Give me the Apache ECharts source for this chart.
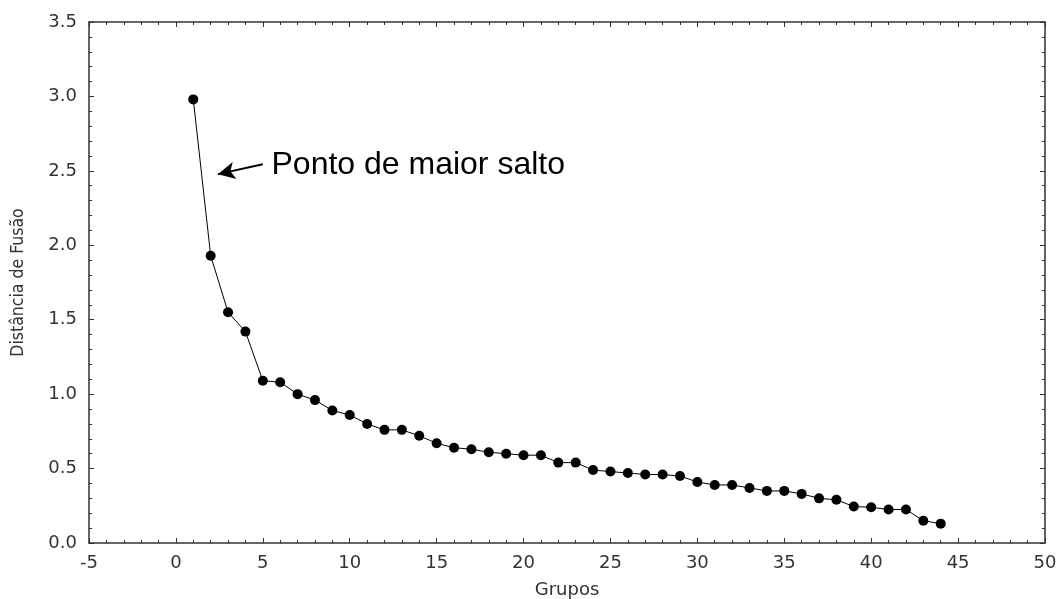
<!DOCTYPE html>
<html>
<head>
<meta charset="utf-8">
<script src="https://cdn.jsdelivr.net/npm/echarts@6/dist/echarts.min.js"></script>
<style>html,body{margin:0;padding:0;background:#fff}#c{width:1058px;height:599px}</style>
</head>
<body>
<div id="c"></div>
<script>
var grupos = [1,2,3,4,5,6,7,8,9,10,11,12,13,14,15,16,17,18,19,20,21,22,23,24,25,26,27,28,29,30,31,32,33,34,35,36,37,38,39,40,41,42,43,44];
var distancia = [2.98,1.93,1.55,1.42,1.09,1.08,1.00,0.96,0.89,0.86,0.80,0.76,0.76,0.72,0.67,0.64,0.63,0.61,0.60,0.59,0.59,0.54,0.54,0.49,0.48,0.47,0.46,0.46,0.45,0.41,0.39,0.39,0.37,0.35,0.35,0.33,0.30,0.29,0.245,0.24,0.225,0.225,0.15,0.13];
var annotationText = 'Ponto de maior salto';
var xTitle = 'Grupos';
var yTitle = 'Dist\u00e2ncia de Fus\u00e3o';

var pts = grupos.map(function(g,i){return [g, distancia[i]];});
var axisColor = '#333';
var font = 'Liberation Sans, Arial, sans-serif';
var tickFont = 'DejaVu Sans, sans-serif';

var chart = echarts.init(document.getElementById('c'));
chart.setOption({
  animation: false,
  backgroundColor: '#fff',
  grid: {left: 89, top: 22, right: 13, bottom: 56, show: false, containLabel: false, outerBoundsMode: 'none'},
  xAxis: [{
    type: 'value', min: -5, max: 50, interval: 5, position: 'bottom',
    name: xTitle, nameLocation: 'middle', nameGap: 38,
    nameTextStyle: {fontSize: 18, color: '#333', fontFamily: tickFont},
    axisLine: {show: true, onZero: false, lineStyle: {color: axisColor, width: 1.5}},
    axisTick: {show: true, inside: true, length: 5, lineStyle: {color: axisColor}},
    minorTick: {show: true, splitNumber: 5, length: 3, lineStyle: {color: axisColor}},
    axisLabel: {fontSize: 18, color: '#333', margin: 11, fontFamily: tickFont},
    splitLine: {show: false}
  },{
    type: 'value', min: -5, max: 50, interval: 5, position: 'top',
    axisLine: {show: true, onZero: false, lineStyle: {color: axisColor, width: 1.5}},
    axisTick: {show: true, inside: true, length: 5, lineStyle: {color: axisColor}},
    minorTick: {show: true, splitNumber: 5, length: 3, lineStyle: {color: axisColor}},
    axisLabel: {show: false}, splitLine: {show: false}
  }],
  yAxis: [{
    type: 'value', min: 0, max: 3.5, interval: 0.5, position: 'left',
    name: yTitle, nameLocation: 'middle', nameGap: 62, nameRotate: 90,
    nameTextStyle: {fontSize: 17.5, color: '#333', fontFamily: 'DejaVu Sans Condensed, Liberation Sans, sans-serif'},
    axisLine: {show: true, onZero: false, lineStyle: {color: axisColor, width: 1.5}},
    axisTick: {show: true, inside: true, length: 5, lineStyle: {color: axisColor}},
    minorTick: {show: true, splitNumber: 5, length: 3, lineStyle: {color: axisColor}},
    axisLabel: {fontSize: 18, color: '#333', margin: 12, fontFamily: tickFont,
      formatter: function(v){return v.toFixed(1);}},
    splitLine: {show: false}
  },{
    type: 'value', min: 0, max: 3.5, interval: 0.5, position: 'right',
    axisLine: {show: true, onZero: false, lineStyle: {color: axisColor, width: 1.5}},
    axisTick: {show: true, inside: true, length: 5, lineStyle: {color: axisColor}},
    minorTick: {show: true, splitNumber: 5, length: 3, lineStyle: {color: axisColor}},
    axisLabel: {show: false}, splitLine: {show: false}
  }],
  series: [{
    type: 'line', data: pts, xAxisIndex: 0, yAxisIndex: 0,
    symbol: 'circle', symbolSize: 10, showAllSymbol: true,
    lineStyle: {color: '#000', width: 1},
    itemStyle: {color: '#000'},
    markLine: {
      silent: true, animation: false,
      symbol: ['none', 'arrow'], symbolSize: [13, 17],
      lineStyle: {color: '#000', width: 2, type: 'solid'},
      label: {show: false},
      data: [[{coord: [5.0, 2.545]}, {coord: [2.42, 2.478]}]]
    },
    markPoint: {
      silent: true, animation: false,
      symbol: 'circle', symbolSize: 0,
      label: {show: true, position: 'right', distance: 0, formatter: annotationText,
        fontSize: 32, color: '#000', fontFamily: font},
      data: [{coord: [5.5, 2.54]}]
    }
  }]
});
</script>
</body>
</html>
